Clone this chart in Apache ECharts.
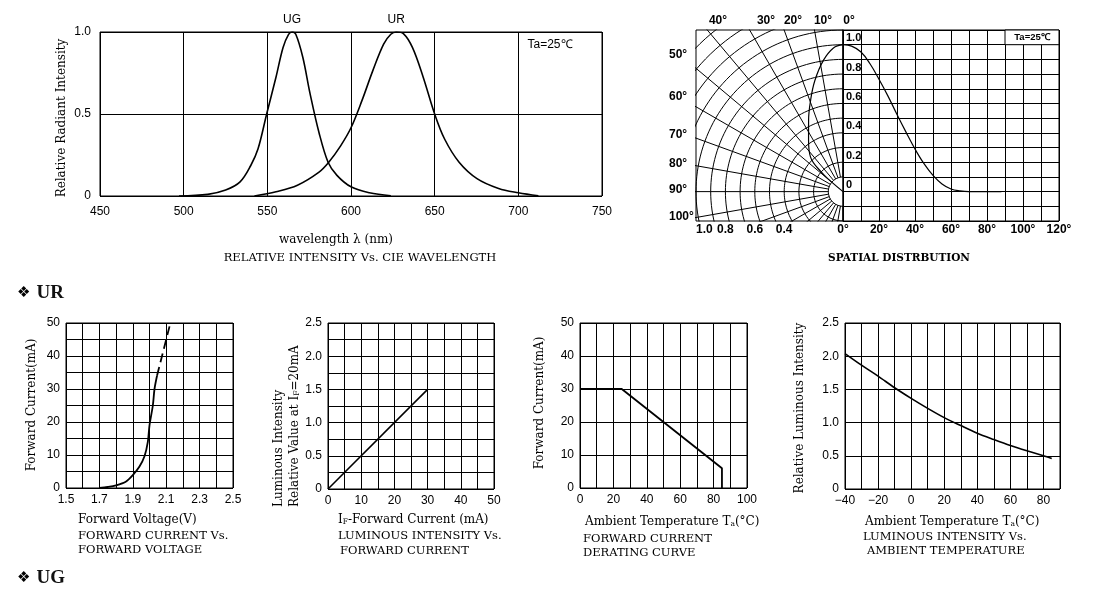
<!DOCTYPE html>
<html><head><meta charset="utf-8">
<script src="https://cdn.jsdelivr.net/npm/echarts/dist/echarts.min.js"></script>
<style>html,body{margin:0;padding:0;background:#fff}#c{width:1096px;height:591px}</style>
</head><body><div id="c"></div>
<script>
// ---------- DATA ----------
// Relative intensity vs wavelength [nm, rel]
const specUG = [[497.2,0],[514.4,0.01],[525.1,0.036],[533.7,0.086],[540.1,0.186],[544.4,0.286],[549.6,0.5],[555.2,0.726],[559.4,0.906],[562.7,0.986],[564.8,1.0],[567,0.986],[571.2,0.846],[575.5,0.626],[580.9,0.386],[586.3,0.206],[591.6,0.126],[600,0.056],[611,0.02],[623.8,0.002]];
const specUR = [[542.3,0],[555.2,0.026],[568,0.066],[580.9,0.146],[586.7,0.206],[593.8,0.306],[600,0.416],[606.7,0.586],[613.1,0.766],[619.5,0.926],[623.8,0.986],[627,1.0],[631.3,0.99],[636.7,0.906],[643.1,0.726],[650,0.5],[656,0.346],[664.6,0.206],[675.3,0.106],[688.2,0.046],[700,0.02],[712,0.002]];
const specXTicks = ['450','500','550','600','650','700','750'];
const specYTicks = ['0','0.5','1.0'];
// Spatial distribution: rectangular [angle deg, rel]
const spatialRect = [[0,1.0],[4.8,0.99],[10,0.95],[15,0.87],[20,0.765],[25,0.65],[30,0.525],[35,0.405],[40,0.29],[45,0.19],[50,0.11],[55,0.052],[60,0.018],[65,0.005],[70,0],[88,0]];
// Spatial distribution: polar [angle deg from axis, radius]
const spatialPolar = [[0,1.0],[3.8,0.98],[8.5,0.903],[14.2,0.78],[19.6,0.658],[25.8,0.538],[34,0.419],[43.3,0.322],[48,0.2],[50,0.1],[50,0]];
const polarRings = [0.1,0.2,0.3,0.4,0.5,0.6,0.7,0.8,0.9,1.0,1.1,1.2,1.3,1.4,1.5];
const polarSpokes = [0,10,20,30,40,50,60,70,80,90,100,110,120,130,140,150,160,170,180];
const spatLeftXTicks = ['1.0','0.8','0.6','0.4'];
const spatRightXTicks = ['0°','20°','40°','60°','80°','100°','120°'];
const spatRightYTicks = ['0','0.2','0.4','0.6','0.8','1.0'];
const spatTopAngles = ['40°','30°','20°','10°','0°'];
const spatSideAngles = ['50°','60°','70°','80°','90°','100°'];
// Forward current vs forward voltage [V, mA]
const ivSolid = [[1.70,0],[1.75,0.3],[1.80,0.8],[1.86,2.0],[1.90,3.9],[1.94,6.5],[1.97,9.6],[1.99,14],[2.00,19],[2.02,25],[2.03,30],[2.045,34]];
const ivDashed = [[2.045,34],[2.085,42],[2.125,50]];
const ivXTicks = ['1.5','1.7','1.9','2.1','2.3','2.5'];
const ivYTicks = ['0','10','20','30','40','50'];
// Luminous intensity vs forward current [mA, rel]
const lumCurrent = [[0,0],[30,1.5]];
const lcXTicks = ['0','10','20','30','40','50'];
const lcYTicks = ['0','0.5','1.0','1.5','2.0','2.5'];
// Derating [degC, mA]
const derating = [[0,30],[25,30],[85,6],[85,0]];
const drXTicks = ['0','20','40','60','80','100'];
const drYTicks = ['0','10','20','30','40','50'];
// Luminous intensity vs ambient temperature [degC, rel]
const lumTemp = [[-40,2.04],[-30,1.865],[-20,1.70],[-10,1.525],[0,1.365],[10,1.215],[20,1.075],[30,0.955],[40,0.84],[50,0.745],[60,0.655],[70,0.575],[80,0.5],[85,0.46]];
const ltXTicks = ['-40','-20','0','20','40','60','80'];
const ltYTicks = ['0','0.5','1.0','1.5','2.0','2.5'];

// ---------- HELPERS ----------
const SANS = "'Liberation Sans', Arial, sans-serif";
const SERIF = "'DejaVu Serif', serif";
function fmt(ticks, sign) {
  sign = sign || 1;
  return function (v) {
    for (const t of ticks) if (Math.abs(parseFloat(t) * sign - v) < 1e-7) return t.replace('-', '−');
    return '';
  };
}
function axis(gi, min, max, interval, ticks, extra) {
  extra = extra || {};
  const lab = Object.assign({ color: '#000', fontFamily: SANS, fontSize: 12, margin: 7, formatter: fmt(ticks, extra.sign), showMinLabel: true, showMaxLabel: true }, extra.label || {});
  return {
    type: 'value', gridIndex: gi, min: min, max: max, interval: interval,
    axisLine: { show: false }, axisTick: { show: false },
    splitLine: { show: extra.split !== false, lineStyle: { color: '#000', width: 1 } },
    axisLabel: lab
  };
}
function grid(l, t, w, h) {
  return { left: l, top: t, width: w, height: h, show: true, borderColor: '#000', borderWidth: 1, backgroundColor: 'transparent', containLabel: false, outerBoundsMode: 'none' };
}
const rad = d => d * Math.PI / 180;
const toXY = (deg, r) => [-r * Math.sin(rad(deg)), r * Math.cos(rad(deg))];
function line(xi, data, extra) {
  return Object.assign({ type: 'line', xAxisIndex: xi, yAxisIndex: xi, data: data, showSymbol: false, symbol: 'none', silent: true, clip: true, lineStyle: { color: '#000', width: 1.6 } }, extra || {});
}
function peak(data) { return data.reduce((a, b) => (b[1] > a[1] ? b : a)); }
function txt(x, y, text, font, align, rot, rich) {
  const el = { type: 'text', x: x, y: y, z: 100, silent: true, style: { text: text, font: font, fill: '#000', textAlign: align || 'left', textVerticalAlign: 'middle', verticalAlign: 'middle' } };
  if (rot) el.rotation = rot;
  if (rich) el.style.rich = rich;
  return el;
}

// ---------- SERIES ----------
const series = [];
const peakLabel = (name) => ({ symbol: 'circle', symbolSize: 1, itemStyle: { color: 'transparent' }, label: { show: true, position: 'top', distance: 6, formatter: name, color: '#000', fontFamily: SANS, fontSize: 12 } });
series.push(line(0, specUG, { smooth: 0.35, markPoint: Object.assign(peakLabel('UG'), { data: [{ coord: peak(specUG) }] }) }));
series.push(line(0, specUR, { smooth: 0.35, markPoint: Object.assign(peakLabel('UR'), { data: [{ coord: peak(specUR) }] }) }));
// polar grid on the left half of spatial chart
polarRings.forEach(r => {
  const d = [];
  for (let a = 0; a <= 180; a += 2) d.push(toXY(a, r));
  series.push(line(1, d, { lineStyle: { color: '#000', width: 1 } }));
});
polarSpokes.forEach(s => {
  series.push(line(1, [toXY(s, 0.1), toXY(s, 2.2)], { lineStyle: { color: '#000', width: 1 } }));
});
series.push(line(1, spatialPolar.map(p => toXY(p[0], p[1])), { smooth: 0.4, lineStyle: { color: '#000', width: 1.2 } }));
series.push(line(2, spatialRect, { smooth: 0.4, lineStyle: { color: '#000', width: 1.2 } }));
series.push(line(3, ivSolid, { smooth: 0.3, lineStyle: { color: '#000', width: 1.8 } }));
series.push(line(3, ivDashed, { lineStyle: { color: '#000', width: 1.8, type: [9, 5] } }));
series.push(line(4, lumCurrent, { lineStyle: { color: '#000', width: 1.6 } }));
series.push(line(5, derating, { lineStyle: { color: '#000', width: 1.8 } }));
series.push(line(6, lumTemp, { smooth: 0.3, lineStyle: { color: '#000', width: 1.6 } }));

// ---------- TEXT ----------
const g = [];
const tf = (s) => s + 'px ' + SERIF;
g.push(txt(62, 118, 'Relative Radiant Intensity', tf(12), 'center', Math.PI / 2));
g.push(txt(550, 45, 'Ta=25℃', '12px ' + SANS, 'center'));
g.push(txt(336, 240, 'wavelength λ (nm)', tf(12), 'center'));
g.push(txt(360, 258, 'RELATIVE INTENSITY Vs. CIE WAVELENGTH', tf(11.5), 'center'));
// spatial chart labels
const topX = [718, 766, 793, 823, 849];
spatTopAngles.forEach((t, i) => g.push(txt(topX[i], 21, t, 'bold 12px ' + SANS, 'center')));
const sideY = [55, 97, 135, 164, 190, 217];
spatSideAngles.forEach((t, i) => g.push(txt(669, sideY[i], t, 'bold 12px ' + SANS, 'left')));
g.push({ type: 'rect', z: 99, silent: true, shape: { x: 1005, y: 30, width: 54, height: 14.7 }, style: { fill: '#fff', stroke: '#000', lineWidth: 1 } });
g.push(txt(1032, 37.5, 'Ta=25℃', 'bold 9.5px ' + SANS, 'center'));
g.push(txt(899, 258, 'SPATIAL DISTRBUTION', 'bold 10.5px ' + SERIF, 'center'));
// section headers
const hdrRich = { s: { font: '15px "DejaVu Sans"', fill: '#000', padding: [0, 6, 0, 0] }, t: { font: 'bold 19px "Liberation Serif"', fill: '#111' } };
g.push(txt(17, 293, '{s|❖}{t|UR}', '13px ' + SANS, 'left', 0, hdrRich));
g.push(txt(17, 578, '{s|❖}{t|UG}', '13px ' + SANS, 'left', 0, hdrRich));
// bottom charts
const subRich = { a: { font: tf(12), fill: '#000' }, b: { font: tf(7.5), fill: '#000', padding: [5, 0, 0, 0] } };
g.push(txt(32, 405, 'Forward Current(mA)', tf(12), 'center', Math.PI / 2));
g.push(txt(78, 520, 'Forward Voltage(V)', tf(12), 'left'));
g.push(txt(78, 536, 'FORWARD CURRENT Vs.', tf(11.5), 'left'));
g.push(txt(78, 550, 'FORWARD VOLTAGE', tf(11.5), 'left'));

g.push(txt(279, 507, 'Luminous Intensity', tf(12), 'left', Math.PI / 2));
g.push(txt(295, 507, '{a|Relative Value at I}{b|F}{a|=20mA}', tf(12), 'left', Math.PI / 2, subRich));
g.push(txt(338, 520, '{a|I}{b|F}{a|-Forward Current (mA)}', tf(12), 'left', 0, subRich));
g.push(txt(338, 536, 'LUMINOUS INTENSITY Vs.', tf(11.5), 'left'));
g.push(txt(340, 551, 'FORWARD CURRENT', tf(11.5), 'left'));

g.push(txt(540, 403, 'Forward Current(mA)', tf(12), 'center', Math.PI / 2));
g.push(txt(585, 522, '{a|Ambient Temperature T}{b|a}{a|(°C)}', tf(12), 'left', 0, subRich));
g.push(txt(583, 539, 'FORWARD CURRENT', tf(11.5), 'left'));
g.push(txt(583, 553, 'DERATING CURVE', tf(11.5), 'left'));

g.push(txt(800, 408, 'Relative Luminous Intensity', tf(12), 'center', Math.PI / 2));
g.push(txt(865, 522, '{a|Ambient Temperature T}{b|a}{a|(°C)}', tf(12), 'left', 0, subRich));
g.push(txt(863, 537, 'LUMINOUS INTENSITY Vs.', tf(11.5), 'left'));
g.push(txt(867, 551, 'AMBIENT TEMPERATURE', tf(11.5), 'left'));

const boldLab = { fontWeight: 'bold', fontSize: 12 };
const option = {
  animation: false,
  backgroundColor: '#fff',
  grid: [
    grid(100, 32, 502, 164),
    grid(696, 30, 147, 191),
    grid(843, 30, 216, 191),
    grid(66, 323, 167, 165),
    grid(328, 323, 166, 166),
    grid(580, 323, 167, 165),
    grid(845, 323, 215, 166)
  ],
  xAxis: [
    axis(0, 450, 750, 50, specXTicks, { label: { margin: 10 } }),
    axis(1, -1, 0, 0.2, spatLeftXTicks, { sign: -1, split: false, label: Object.assign({ margin: 3, alignMinLabel: 'left' }, boldLab) }),
    axis(2, 0, 120, 10, spatRightXTicks, { label: Object.assign({ margin: 3 }, boldLab) }),
    axis(3, 1.5, 2.5, 0.1, ivXTicks, { label: { margin: 6 } }),
    axis(4, 0, 50, 5, lcXTicks, { label: { margin: 6 } }),
    axis(5, 0, 100, 10, drXTicks, { label: { margin: 6 } }),
    axis(6, -40, 90, 10, ltXTicks, { label: { margin: 6 } })
  ],
  yAxis: [
    axis(0, 0, 1, 0.5, specYTicks, { label: { margin: 9 } }),
    axis(1, -0.2, 1.1, 0.1, [], { split: false, label: { show: false } }),
    axis(2, -0.2, 1.1, 0.1, spatRightYTicks, { label: Object.assign({ inside: true, margin: 3, align: 'left', verticalAlign: 'bottom', fontSize: 11, fontWeight: 'bold', lineHeight: 13 }) }),
    axis(3, 0, 50, 5, ivYTicks, { label: { margin: 6 } }),
    axis(4, 0, 2.5, 0.25, lcYTicks, { label: { margin: 6 } }),
    axis(5, 0, 50, 10, drYTicks, { label: { margin: 6 } }),
    axis(6, 0, 2.5, 0.5, ltYTicks, { label: { margin: 6 } })
  ],
  series: series,
  graphic: { elements: g }
};
const chart = echarts.init(document.getElementById('c'));
chart.setOption(option);
</script>
</body></html>
